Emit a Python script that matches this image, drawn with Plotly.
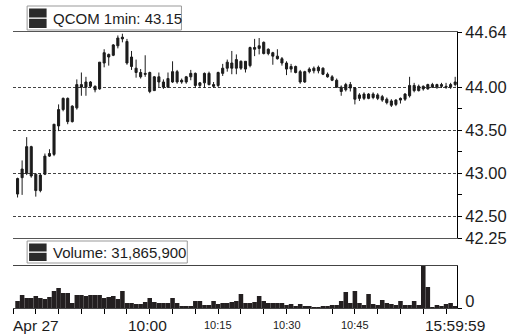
import plotly.graph_objects as go

# ---------------- data ----------------
minute = list(range(1, 98))  # 1-minute bars after 9:30

open_ = [42.76, 42.95, 43.00, 43.31, 42.99, 42.80, 42.99, 43.20, 43.22, 43.55,
         43.74, 43.87, 43.60, 43.76, 44.03, 44.00, 44.06, 44.01, 43.98, 44.28,
         44.38, 44.37, 44.48, 44.56, 44.53, 44.35, 44.22, 44.17, 44.16, 44.17,
         43.96, 44.12, 44.06, 44.00, 44.06, 44.18, 44.06, 44.06, 44.12, 44.16,
         44.02, 44.05, 44.16, 44.03, 44.02, 44.16, 44.22, 44.28, 44.22, 44.30,
         44.21, 44.25, 44.46, 44.45, 44.52, 44.39, 44.40, 44.36, 44.33, 44.28,
         44.21, 44.24, 44.18, 44.06, 44.18, 44.22, 44.19, 44.22, 44.15, 44.12,
         44.08, 44.00, 43.97, 44.03, 43.99, 43.87, 43.92, 43.87, 43.92, 43.91,
         43.89, 43.86, 43.84, 43.80, 43.85, 43.86, 43.90, 44.02, 43.96, 44.01,
         43.98, 44.03, 44.00, 44.03, 44.01, 44.00, 44.03]
high = [42.95, 43.15, 43.42, 43.32, 43.00, 43.00, 43.23, 43.28, 43.57, 43.80,
        43.88, 43.88, 43.79, 44.09, 44.17, 44.12, 44.07, 44.02, 44.29, 44.44,
        44.39, 44.50, 44.60, 44.62, 44.56, 44.42, 44.32, 44.21, 44.37, 44.18,
        44.13, 44.17, 44.09, 44.17, 44.30, 44.20, 44.10, 44.13, 44.20, 44.17,
        44.06, 44.17, 44.18, 44.06, 44.18, 44.27, 44.32, 44.42, 44.38, 44.31,
        44.30, 44.47, 44.56, 44.57, 44.53, 44.45, 44.41, 44.44, 44.35, 44.30,
        44.27, 44.25, 44.20, 44.19, 44.23, 44.24, 44.25, 44.23, 44.17, 44.14,
        44.10, 44.02, 44.05, 44.06, 44.00, 43.93, 43.94, 43.93, 43.94, 43.93,
        43.91, 43.88, 43.86, 43.86, 43.88, 43.93, 44.12, 44.05, 44.03, 44.02,
        44.04, 44.05, 44.04, 44.05, 44.05, 44.05, 44.12]
low = [42.72, 42.75, 42.98, 42.95, 42.73, 42.78, 42.98, 43.19, 43.20, 43.49,
       43.72, 43.57, 43.59, 43.74, 43.90, 43.90, 43.99, 43.94, 43.97, 44.23,
       44.25, 44.36, 44.45, 44.52, 44.26, 44.20, 44.11, 44.10, 44.12, 43.93,
       43.96, 44.00, 43.98, 43.99, 44.05, 44.04, 44.04, 44.04, 44.08, 43.99,
       43.99, 43.99, 44.02, 43.99, 44.00, 44.13, 44.18, 44.15, 44.15, 44.20,
       44.17, 44.23, 44.36, 44.38, 44.38, 44.37, 44.26, 44.32, 44.25, 44.14,
       44.17, 44.16, 44.04, 44.05, 44.16, 44.16, 44.16, 44.14, 44.11, 44.07,
       43.99, 43.90, 43.95, 43.95, 43.80, 43.84, 43.85, 43.86, 43.86, 43.85,
       43.83, 43.80, 43.77, 43.78, 43.81, 43.84, 43.88, 43.94, 43.95, 43.96,
       43.97, 43.99, 43.98, 43.99, 43.98, 43.98, 44.01]
close = [42.94, 43.05, 43.31, 42.97, 42.80, 42.98, 43.20, 43.23, 43.57, 43.74,
         43.87, 43.60, 43.78, 44.03, 44.00, 44.06, 44.01, 43.97, 44.29, 44.40,
         44.35, 44.49, 44.57, 44.58, 44.28, 44.24, 44.17, 44.12, 44.15, 43.95,
         44.12, 44.06, 44.00, 44.10, 44.18, 44.06, 44.08, 44.12, 44.16, 44.02,
         44.05, 44.16, 44.03, 44.01, 44.17, 44.22, 44.29, 44.22, 44.32, 44.22,
         44.30, 44.46, 44.44, 44.48, 44.39, 44.44, 44.36, 44.33, 44.28, 44.21,
         44.24, 44.17, 44.06, 44.18, 44.21, 44.19, 44.23, 44.15, 44.12, 44.08,
         44.00, 43.95, 44.03, 43.99, 43.86, 43.91, 43.87, 43.92, 43.88, 43.87,
         43.85, 43.82, 43.79, 43.85, 43.87, 43.92, 44.02, 43.96, 44.01, 43.98,
         44.03, 44.00, 44.03, 44.01, 44.00, 44.03, 44.06]
volume = [70, 130, 100, 100, 120, 100, 90, 110, 170, 200,
          150, 150, 50, 130, 130, 120, 130, 130, 130, 100,
          110, 120, 90, 170, 50, 50, 40, 40, 60, 100,
          60, 50, 50, 50, 100, 50, 20, 20, 20, 70,
          70, 30, 30, 70, 40, 50, 50, 60, 70, 140,
          50, 50, 60, 120, 70, 50, 50, 50, 50, 30,
          40, 20, 40, 20, 20, 10, 10, 20, 20, 30,
          30, 70, 160, 50, 170, 50, 30, 140, 40, 30,
          80, 50, 40, 30, 70, 30, 30, 70, 30, 420,
          210, 10, 30, 20, 40, 50, 20]
volume = [v * 1000 for v in volume]

price_ticks = [42.25, 42.50, 43.00, 43.50, 44.00, 44.64]
price_ticklabels = ["42.25", "42.50", "43.00", "43.50", "44.00", "44.64"]
price_minor = [42.75, 43.25, 43.75]

x_label_pos = [0, 30, 45, 60, 75, 97]
x_label_text = ["Apr 27", "10:00", "10:15", "10:30", "10:45", "15:59:59"]
x_tick_pos = list(range(0, 96, 5))

title_price = "QCOM 1min: 43.15"
title_volume = "Volume: 31,865,900"

# ---------------- figure ----------------
FONT = "Liberation Sans, Arial, Helvetica, sans-serif"
INK = "#1c1c1c"
W, H = 519, 335
ML, MR, MT, MB = 13, 50, 32, 27
PW, PH = W - ML - MR, H - MT - MB


def px_x(p):
    return (p - ML) / PW


def px_y(p):
    return (H - MB - p) / PH


fig = go.Figure()
fig.add_trace(go.Candlestick(
    x=minute, open=open_, high=high, low=low, close=close,
    xaxis="x", yaxis="y", whiskerwidth=0,
    increasing=dict(line=dict(color=INK, width=1), fillcolor=INK),
    decreasing=dict(line=dict(color=INK, width=1), fillcolor=INK),
    showlegend=False, hoverinfo="skip"))
fig.add_trace(go.Bar(
    x=minute, y=volume, xaxis="x2", yaxis="y2", width=1,
    marker=dict(color="#231f20", line=dict(width=0)),
    showlegend=False, hoverinfo="skip"))

price_bot = px_y(238)
vol_top = px_y(266)

fig.update_layout(
    width=W, height=H, margin=dict(l=ML, r=MR, t=MT, b=MB),
    paper_bgcolor="white", plot_bgcolor="white",
    font=dict(family=FONT, color=INK, size=15),
    boxgap=0.35,
    xaxis=dict(domain=[0, 1], anchor="y", range=[0, 97.4],
               showticklabels=False, ticks="", showgrid=False, zeroline=False,
               showline=True, mirror=True, linecolor="#555", linewidth=1,
               rangeslider=dict(visible=False)),
    yaxis=dict(domain=[price_bot, 1], anchor="x", side="right",
               range=[42.25, 44.64], tickvals=price_ticks, ticktext=price_ticklabels,
               ticks="outside", ticklen=4, tickcolor="black",
               showline=True, linecolor="black", linewidth=1,
               showgrid=True, gridcolor="#444", gridwidth=1, griddash="3px,2px",
               zeroline=False, tickfont=dict(size=16.5, color=INK, family=FONT),
               minor=dict(tickvals=price_minor, ticks="outside", ticklen=4,
                          tickcolor="black", showgrid=False)),
    xaxis2=dict(domain=[0, 1], anchor="y2", range=[0, 97.4],
                tickvals=x_tick_pos, showticklabels=False,
                ticks="outside", ticklen=5, tickcolor="black",
                showline=True, mirror=True, linecolor="#444", linewidth=1,
                showgrid=False, zeroline=False),
    yaxis2=dict(domain=[0, vol_top], anchor="x2", side="right",
                range=[0, max(volume)], tickvals=[0], ticktext=["0"],
                ticks="outside", ticklen=4, tickcolor="black",
                showline=True, linecolor="black", linewidth=1,
                showgrid=False, zeroline=False, ticklabelshift=-7,
                tickfont=dict(size=16.5, color=INK, family=FONT)),
)

# x-axis labels
big = {"Apr 27", "10:00", "15:59:59"}
for pos, txt in zip(x_label_pos, x_label_text):
    fig.add_annotation(
        x=pos, xref="x2", y=0, yref="paper", text=txt, showarrow=False,
        xanchor="left" if pos == 0 else "center", yanchor="top",
        yshift=-7 if txt in big else -9, xshift=-2 if pos == 0 else (-2 if pos == 30 else 0),
        font=dict(size=15.5 if txt in big else 11, color=INK, family=FONT))

# legend-style boxes with icon
shapes = []
for (box_top, box_bot, box_right, text) in [(6, 30, 186, title_price), (241, 263, 192, title_volume)]:
    shapes.append(dict(type="rect", xref="paper", yref="paper",
                       x0=px_x(27.5), x1=px_x(box_right), y0=px_y(box_bot), y1=px_y(box_top),
                       line=dict(color="#999", width=1), fillcolor="white", layer="above"))
    mid = (box_top + box_bot) / 2
    shapes.append(dict(type="rect", xref="paper", yref="paper",
                       x0=px_x(29.5), x1=px_x(47.5), y0=px_y(mid - 0.5), y1=px_y(box_top + 2.5),
                       line=dict(width=0), fillcolor="#2a2a2a", layer="above"))
    shapes.append(dict(type="rect", xref="paper", yref="paper",
                       x0=px_x(29.5), x1=px_x(47.5), y0=px_y(box_bot - 2), y1=px_y(mid + 0.8),
                       line=dict(width=0), fillcolor="#2a2a2a", layer="above"))
    fig.add_annotation(x=px_x(52.5), xref="paper", y=px_y(mid + 0.5), yref="paper",
                       text=text, showarrow=False, xanchor="left", yanchor="middle",
                       font=dict(size=15, color=INK, family=FONT))
fig.update_layout(shapes=shapes)

fig.write_html("out.html")
